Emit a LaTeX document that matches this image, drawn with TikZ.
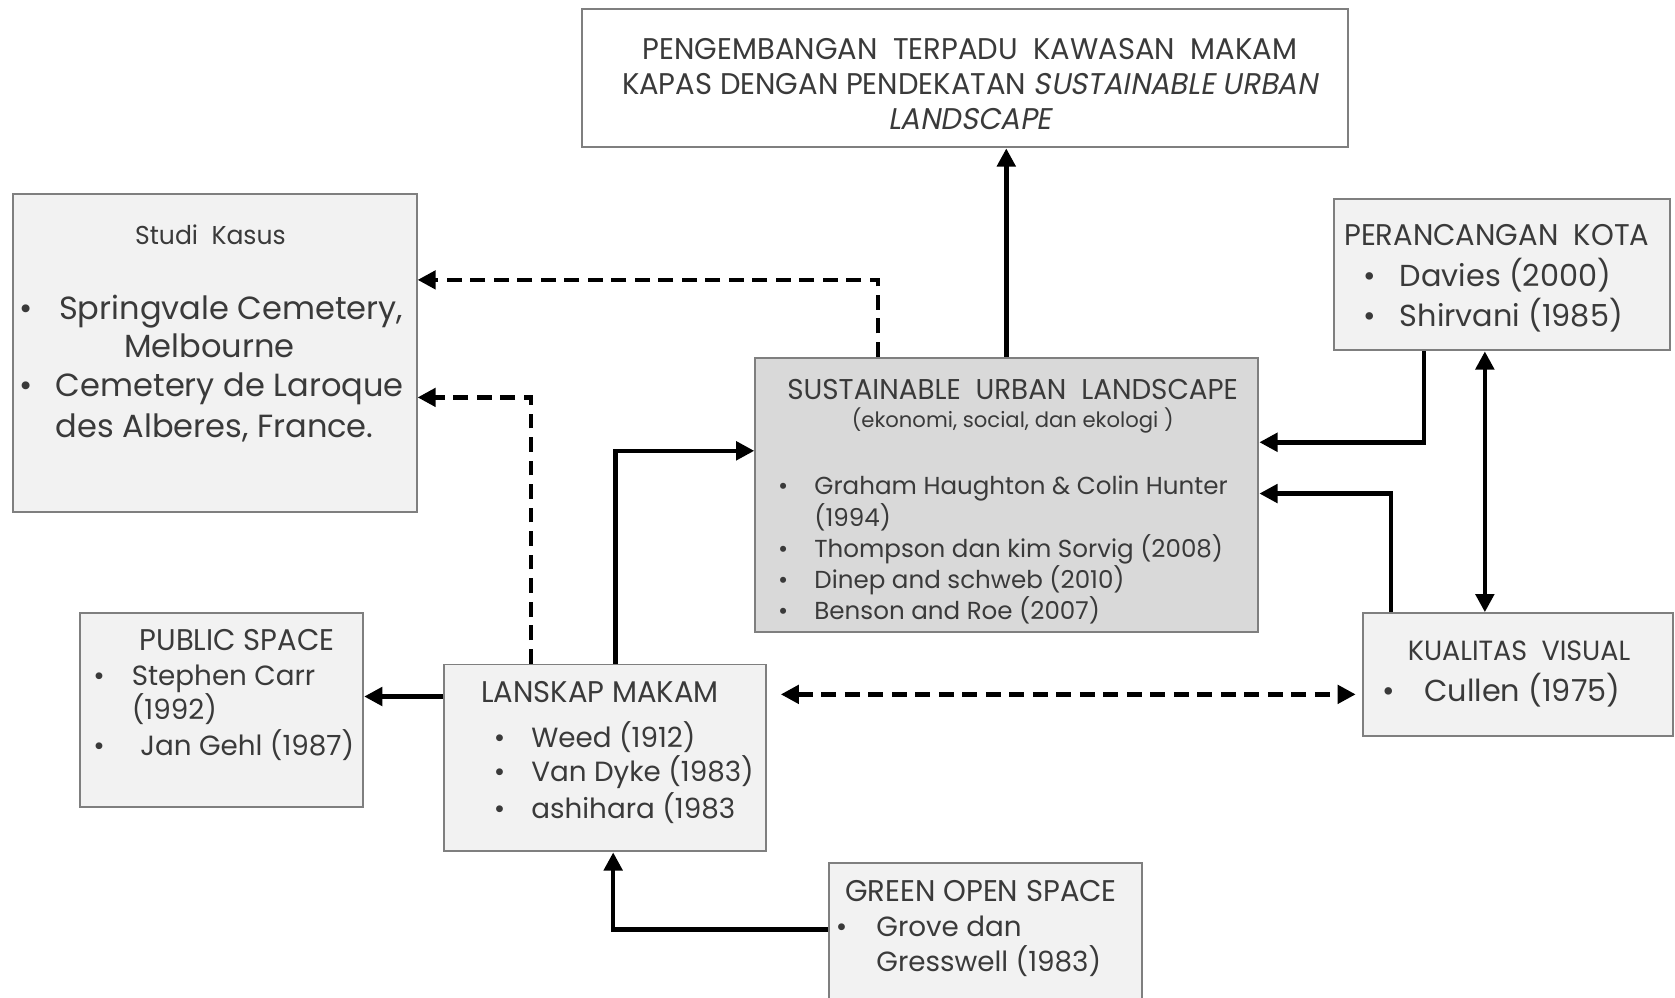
\documentclass[tikz,border=0pt]{standalone}
\usepackage{fontspec}
\setmainfont{Poppins}
\newfontfamily\tfont[FakeStretch=0.97]{Poppins}
\newfontfamily\tfontit[FakeStretch=0.97,FakeSlant=0.18]{Poppins}
\usetikzlibrary{arrows.meta,fit,calc}
\definecolor{boxfill}{HTML}{F2F2F2}
\definecolor{sulfill}{HTML}{D9D9D9}
\definecolor{edge}{HTML}{7F7F7F}
\definecolor{ink}{HTML}{3A3A3A}
\begin{document}
\begin{tikzpicture}[x=0.5pt,y=-0.5pt,
 box/.style={draw=edge, line width=0.9pt, fill=boxfill, inner sep=0pt},
 tl/.style={text=ink, inner sep=0pt, anchor=mid west},
 tc/.style={text=ink, inner sep=0pt, anchor=mid},
 ttl/.style={font=\tfont\fontsize{14}{16}\selectfont, yshift=-2.6pt},
 big/.style={font=\fontsize{15}{18}\selectfont, yshift=-2.9pt},
 bigk/.style={font=\fontsize{14.2}{17}\selectfont, yshift=-2.8pt},
 mid/.style={font=\fontsize{13}{15}\selectfont, yshift=-2.5pt},
 sml/.style={font=\fontsize{11.5}{14}\selectfont, yshift=-2.2pt},
 conn/.style={line width=2.1pt, -{Triangle[length=8.5pt,width=8.5pt]}},
 dconn/.style={conn, dash pattern=on 7pt off 4pt},
]
\useasboundingbox (0,0) rectangle (1568,934);
% boxes
\node[box, fill=white, fit={(545,8)(1262,138)}] (top) {};
\node[box, fit={(12,182)(390,479)}] (studi) {};
\node[box, fill=sulfill, fit={(707,335)(1178,592)}] (sul) {};
\node[box, fit={(1249,186)(1563,328)}] (kota) {};
\node[box, fit={(1276,574)(1566,689)}] (visual) {};
\node[box, fit={(75,574)(340,755)}] (public) {};
\node[box, fit={(416,622)(717,797)}] (lanskap) {};
\node[box, fit={(776,808)(1069,950)}] (green) {};
% top text
\node[tc, font=\tfont\fontsize{14}{16}\selectfont, yshift=-2.5pt] (top1) at (908,45) {PENGEMBANGAN\ \ TERPADU\ \ KAWASAN\ \ MAKAM};
\node[tc, font=\tfont\fontsize{14}{16}\selectfont, yshift=-2.5pt] (top2) at (908,78) {KAPAS DENGAN PENDEKATAN {\tfontit SUSTAINABLE URBAN}};
\node[tc, font=\tfontit\fontsize{14}{16}\selectfont, yshift=-2.5pt] (top3) at (908,111) {LANDSCAPE};
% studi kasus
\node[tc, ttl, font=\tfont\fontsize{12.1}{14}\selectfont] (skt) at (197,218) {Studi\ \ Kasus};
\node[tl, big] (skb1) at (18,288) {\textbullet};
\node[tl, big] (sk1) at (55,288) {Springvale Cemetery,};
\node[tc, big] (sk2) at (196,323) {Melbourne};
\node[tl, big] (skb2) at (18,360) {\textbullet};
\node[tl, big] (sk3) at (52,360) {Cemetery de Laroque};
\node[tl, big] (sk4) at (52,398) {des Alberes, France.};
% sustainable urban landscape
\node[tc, ttl, font=\tfont\fontsize{13.4}{15}\selectfont] (sult) at (948,363) {SUSTAINABLE\ \ URBAN\ \ LANDSCAPE};
\node[tc, font=\fontsize{9.9}{11}\selectfont, yshift=-1.8pt] (suls) at (948,391) {(ekonomi, social, dan ekologi )};
\node[tl, sml] (sub1) at (728,453) {\textbullet};
\node[tl, sml] (su1) at (762,453) {Graham Haughton \& Colin Hunter};
\node[tl, sml] (su1b) at (762,483) {(1994)};
\node[tl, sml] (sub2) at (728,512) {\textbullet};
\node[tl, sml] (su2) at (762,512) {Thompson dan kim Sorvig (2008)};
\node[tl, sml] (sub3) at (728,541) {\textbullet};
\node[tl, sml] (su3) at (762,541) {Dinep and schweb (2010)};
\node[tl, sml] (sub4) at (728,570) {\textbullet};
\node[tl, sml] (su4) at (762,570) {Benson and Roe (2007)};
% perancangan kota
\node[tl, ttl] (kt) at (1258,219) {PERANCANGAN\ \ KOTA};
\node[tl, bigk] (kb1) at (1276,257) {\textbullet};
\node[tl, bigk] (k1) at (1310,257) {Davies (2000)};
\node[tl, bigk] (kb2) at (1276,295) {\textbullet};
\node[tl, bigk] (k2) at (1310,295) {Shirvani (1985)};
% kualitas visual
\node[tc, ttl, font=\tfont\fontsize{13}{15}\selectfont] (vt) at (1422,608) {KUALITAS\ \ VISUAL};
\node[tl, bigk] (vb1) at (1294,646) {\textbullet};
\node[tl, bigk] (v1) at (1333,646) {Cullen (1975)};
% public space
\node[tc, ttl] (pt) at (222,598) {PUBLIC SPACE};
\node[tl, mid] (pb1) at (87,631) {\textbullet};
\node[tl, mid] (p1) at (123,631) {Stephen Carr};
\node[tl, mid] (p1b) at (123,663) {(1992)};
\node[tl, mid] (pb2) at (87,697) {\textbullet};
\node[tl, mid] (p2) at (131,697) {Jan Gehl (1987)};
% lanskap makam
\node[tl, ttl] (lt) at (450,647) {LANSKAP MAKAM};
\node[tl, mid] (lb1) at (462,689) {\textbullet};
\node[tl, mid] (l1) at (497,689) {Weed (1912)};
\node[tl, mid] (lb2) at (462,721) {\textbullet};
\node[tl, mid] (l2) at (497,721) {Van Dyke (1983)};
\node[tl, mid] (lb3) at (462,756) {\textbullet};
\node[tl, mid] (l3) at (497,756) {ashihara (1983};
% green open space
\node[tl, ttl] (gt) at (791,833) {GREEN OPEN SPACE};
\node[tl, mid] (gb1) at (782,866) {\textbullet};
\node[tl, mid] (g1t) at (820,866) {Grove dan};
\node[tl, mid] (g2t) at (820,899) {Gresswell (1983)};
% connectors
\coordinate (c1) at (942,0);
\draw[conn] (sul.north -| c1) -- (top.south -| c1);
\coordinate (d1) at (822,262);
\draw[dconn] (sul.north -| d1) |- (studi.east |- d1);
\coordinate (d2) at (497,372);
\draw[dconn] (lanskap.north -| d2) |- (studi.east |- d2);
\coordinate (s1) at (576,422);
\draw[conn] (lanskap.north -| s1) |- (sul.west |- s1);
\coordinate (s2) at (1333,414);
\draw[conn] (kota.south -| s2) |- (sul.east |- s2);
\coordinate (s3) at (1302,462);
\draw[conn] (visual.north -| s3) |- (sul.east |- s3);
\coordinate (s4) at (1390,0);
\draw[conn, {Triangle[length=8.5pt,width=8.5pt]}-{Triangle[length=8.5pt,width=8.5pt]}] (kota.south -| s4) -- (visual.north -| s4);
\coordinate (h1) at (0,650);
\draw[dconn, {Triangle[length=8.5pt,width=8.5pt]}-{Triangle[length=8.5pt,width=8.5pt]}, shorten <=6.5pt, shorten >=3pt] (lanskap.east |- h1) -- (visual.west |- h1);
\coordinate (h2) at (0,652);
\draw[conn] (lanskap.west |- h2) -- (public.east |- h2);
\coordinate (g1) at (574,870);
\draw[conn] (green.west |- g1) -| (lanskap.south -| g1);
\end{tikzpicture}
\end{document}
